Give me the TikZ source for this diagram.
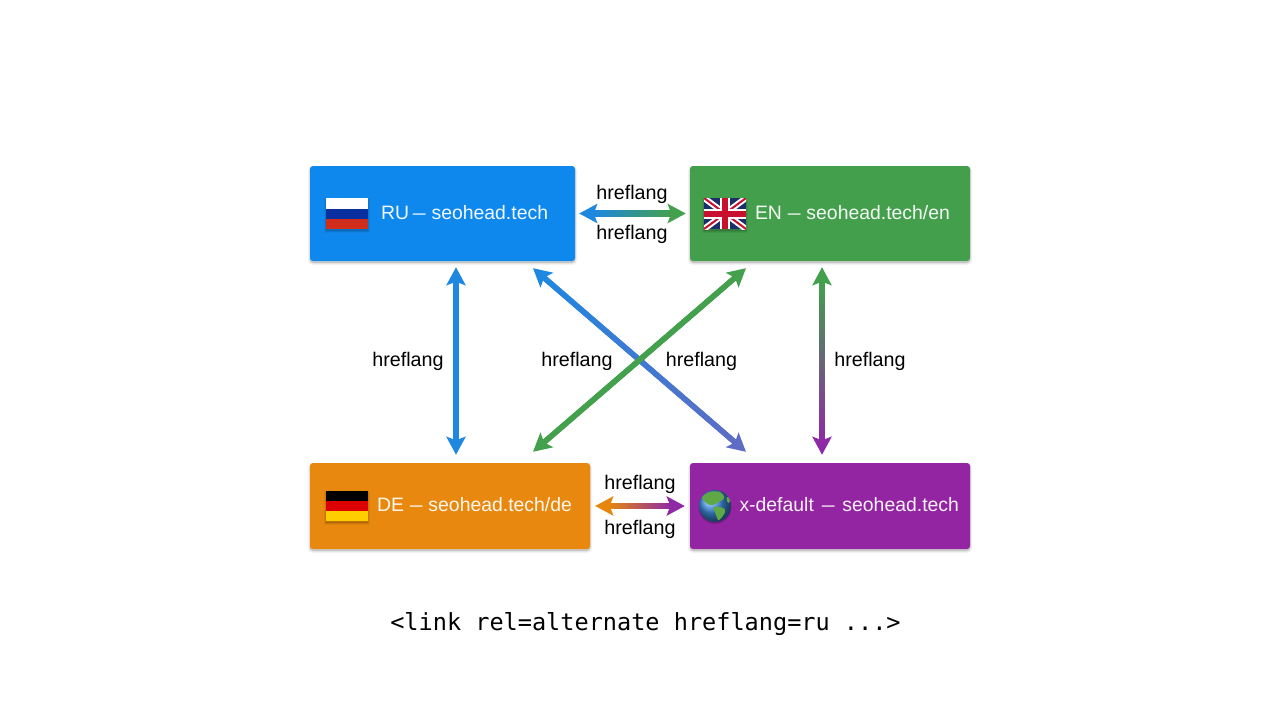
\documentclass[tikz,border=0pt]{standalone}
\usepackage{fontspec}
\usepackage{graphicx}
\setmainfont{Liberation Sans}
\newfontfamily\codefont{DejaVu Sans Mono}
\usetikzlibrary{arrows.meta,calc}
\definecolor{cblue}{HTML}{0F88EE}
\definecolor{cgreen}{HTML}{439F4C}
\definecolor{corange}{HTML}{E9880E}
\definecolor{cpurple}{HTML}{9325A2}
\definecolor{ablue}{HTML}{1E88E0}
\definecolor{agreen}{HTML}{43A04C}
\definecolor{aorange}{HTML}{E5860F}
\definecolor{apurple}{HTML}{8E2AA5}
\definecolor{aindigo}{HTML}{5F6CC4}
\definecolor{ruflagblue}{HTML}{0A2F9E}
\definecolor{ruflagred}{HTML}{D12D1C}
\definecolor{ukblue}{HTML}{1B2F6B}
\definecolor{ukred}{HTML}{C8102E}
\definecolor{deflagred}{HTML}{DD0000}
\definecolor{deflaggold}{HTML}{FFCE00}
\definecolor{globeblue}{HTML}{3D8CDF}
\definecolor{globegreen}{HTML}{5FA845}
\newcommand{\thedash}{\kern-.6pt\scalebox{.66}[1]{—}\kern-.6pt}
\newcommand{\boxline}[1]{\raisebox{-5.5pt}[0pt][0pt]{#1}}
\tikzset{
  softshadow/.style={
    preaction={draw=black,draw opacity=.05,fill=black,fill opacity=.05,line width=4pt,transform canvas={yshift=-2pt}},
    preaction={draw=black,draw opacity=.08,fill=black,fill opacity=.08,line width=2pt,transform canvas={yshift=-1.5pt}}},
  box/.style={softshadow,rounded corners=3pt,inner xsep=0pt,inner ysep=0pt,align=left,text=white,text opacity=.94,
    font=\fontsize{19.4}{22}\selectfont},
  hl/.style={font=\fontsize{19.7}{23}\selectfont,text=black,inner sep=0pt},
  code/.style={font=\codefont\fontsize{23.55}{28}\selectfont,text=black,inner sep=0pt},
  flag/.style={softshadow},
}
% double-headed connector whose shaft runs through a colour gradient
\newcommand{\gradarrow}[4]{%
  \coordinate (gs) at (#1);
  \coordinate (ge) at (#2);
  \draw[line width=5.5pt,#3!50!#4,
    {Stealth[length=18pt,width=19pt,inset=3.5pt,color=#3]}-{Stealth[length=18pt,width=19pt,inset=3.5pt,color=#4]}]
    (gs) -- (ge);
  \coordinate (ga) at ($(gs)!14pt!(ge)$);
  \coordinate (gb) at ($(ge)!14pt!(gs)$);
  \path let \p1=($(gb)-(ga)$) in \pgfextra{%
    \pgfmathsetmacro{\garotl}{atan2(\y1,\x1)}\global\let\garot\garotl
    \pgfmathsetmacro{\galenl}{veclen(\x1,\y1)}\global\let\galen\galenl};
  \shade[transform canvas={shift={(ga)},rotate=\garot},left color=#3,right color=#4]
    (0,-2.75) rectangle (\galen,2.75);
}
\begin{document}
\begin{tikzpicture}[x=1pt,y=-1pt]
\useasboundingbox (0,0) rectangle (1280,720);
\fill[white] (0,0) rectangle (1280,720);

% boxes
\node[box,fill=cblue,text width=265pt,minimum height=95pt] (ru) at (442.5,213.5) {\hspace*{71pt}\boxline{RU\kern-2pt{} \thedash{} seohead.tech}};
\node[box,fill=cgreen,text width=280pt,minimum height=95pt] (en) at (830,213.5) {\hspace*{65pt}\boxline{EN \thedash{} seohead.tech/en}};
\node[box,fill=corange,text width=280pt,minimum height=86pt] (de) at (450,506) {\hspace*{67pt}\boxline{DE \thedash{} seohead.tech/de}};
\node[box,fill=cpurple,text width=280pt,minimum height=86pt] (xd) at (830,506) {\hspace*{49.5pt}\boxline{x-default\kern2pt{} \thedash{}\kern2pt{} seohead.tech}};

% flags
\path[flag] (326,198) rectangle (368,229);
\fill[white] (326,198) rectangle (368,208.5);
\fill[ruflagblue] (326,208.5) rectangle (368,219);
\fill[ruflagred] (326,219) rectangle (368,229);

\path[flag] (704,198) rectangle (746,229);
\begin{scope}
\clip (704,198) rectangle (746,229);
\fill[ukblue] (704,198) rectangle (746,229);
\draw[white,line width=6pt] (704,198) -- (746,229) (746,198) -- (704,229);
\draw[ukred,line width=2pt] (704,198) -- (746,229) (746,198) -- (704,229);
\draw[white,line width=10pt] (725,198) -- (725,229) (704,213.5) -- (746,213.5);
\draw[ukred,line width=6pt] (725,198) -- (725,229) (704,213.5) -- (746,213.5);
\end{scope}

\path[flag] (326,491) rectangle (368,521);
\fill[black] (326,491) rectangle (368,501);
\fill[deflagred] (326,501) rectangle (368,511);
\fill[deflaggold] (326,511) rectangle (368,521);

% globe
\fill[black,opacity=.2] (715,507.5) circle (16.3pt);
\shade[ball color=globeblue] (715,506) circle (16pt);
\begin{scope}
\clip (715,506) circle (16pt);
\fill[globegreen] plot[smooth cycle,tension=.6] coordinates {(702,498) (710,492) (720,492) (724,498) (717,503) (710,505)};
\fill[globegreen] plot[smooth cycle,tension=.6] coordinates {(714,507) (723,508) (725,512) (719,520) (716,515)};
\fill[globegreen] plot[smooth cycle,tension=.6] coordinates {(727,497) (730,499) (729,503) (727,501)};
\end{scope}

% connectors
\gradarrow{$(ru.east)+(4,0)$}{$(en.west)+(-4,0)$}{ablue}{agreen}
\gradarrow{$(de.east)+(5,0)$}{$(xd.west)+(-5,0)$}{aorange}{apurple}
\gradarrow{$(ru.south)+(13.5,6)$}{$(de.north)+(6,-8)$}{ablue}{ablue}
\gradarrow{$(en.south)+(-8,6)$}{$(xd.north)+(-8,-8)$}{agreen}{apurple}
\gradarrow{$(ru.south)+(90.5,7)$}{$(xd.north)+(-84,-11)$}{ablue}{aindigo}
\gradarrow{$(en.south)+(-84,7)$}{$(de.north)+(83,-11)$}{agreen}{agreen}

% labels
\node[hl] (l1) at (632,194.5) {hreflang};
\node[hl] (l2) at (632,234.5) {hreflang};
\node[hl] (l3) at (408,361) {hreflang};
\node[hl] (l4) at (577,361) {hreflang};
\node[hl] (l5) at (701.5,361) {hreflang};
\node[hl] (l6) at (870,361) {hreflang};
\node[hl] (l7) at (640,484) {hreflang};
\node[hl] (l8) at (640,529) {hreflang};
\node[code] (cap) at (645.5,624) {<link rel=alternate hreflang=ru ...>};
\end{tikzpicture}
\end{document}
